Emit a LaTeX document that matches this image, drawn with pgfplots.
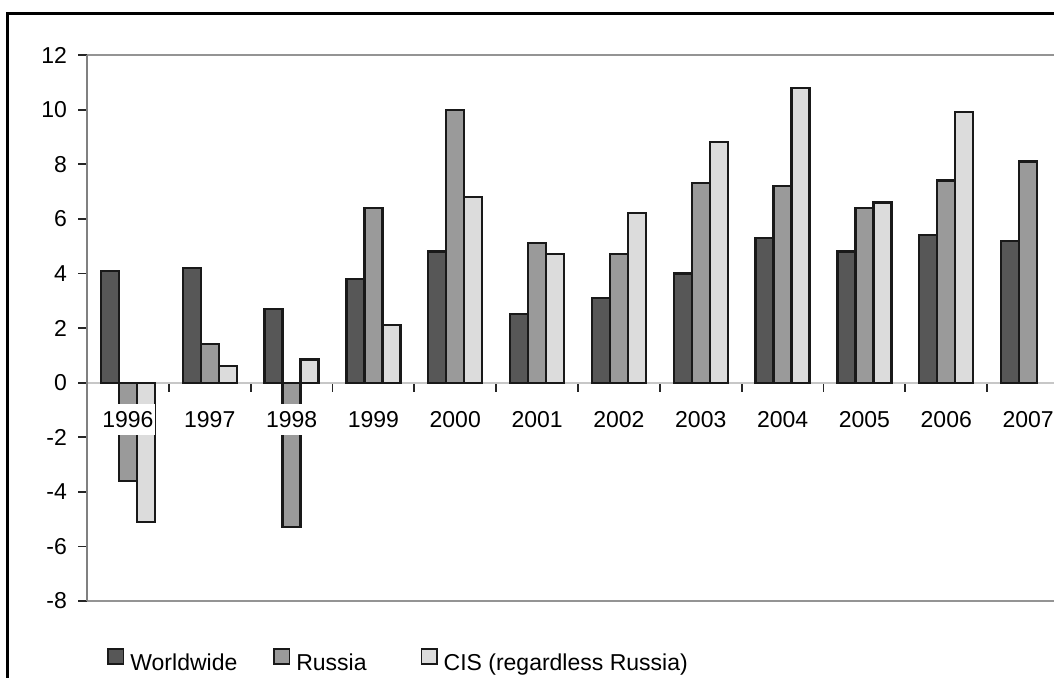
\documentclass[border=0pt]{standalone}
\usepackage{fontspec}
\setmainfont{Liberation Sans}
\usepackage{pgfplots}
\pgfplotsset{compat=1.18}
\definecolor{wwfill}{HTML}{575757}
\definecolor{rufill}{HTML}{9A9A9A}
\definecolor{cisfill}{HTML}{DCDCDC}
\newcommand{\chartfont}{\fontsize{11.5}{13.8}\selectfont}
\pgfplotsset{
  sqleg/.style={legend image code/.code={%
    \draw[##1,draw=black!90,line width=0.9pt] (0pt,-0.2pt) rectangle (7.6pt,7.4pt);}},
  growth bar/.style={ybar, bar width=0.22, draw=black!90, line width=1.1pt, sqleg},
}
\begin{document}
\begin{tikzpicture}
\begin{axis}[
  set layers,
  at={(43.5pt,38pt)}, anchor=south west,
  scale only axis, width=491pt, height=273pt,
  xmin=-0.5, xmax=11.5, ymin=-8, ymax=12,
  axis x line=middle, axis y line=left,
  hide obscured x ticks=false,
  axis line style={-},
  x axis line style={draw=black!22, line width=0.9pt},
  y axis line style={draw=black!50, line width=0.9pt},
  tick align=outside,
  major tick length=4.5pt,
  tick style={draw=black!85, line width=0.9pt},
  xtick={-0.5,0.5,...,11.5},
  x tick label as interval,
  xticklabels={1996,1997,1998,1999,2000,2001,2002,2003,2004,2005,2006,2007},
  xticklabel style={/pgfplots/on layer=axis foreground, fill=white,
    inner xsep=0.8pt, inner ysep=3.7pt, anchor=center, yshift=-14pt},
  ytick={-8,-6,-4,...,12},
  yticklabels={-8,-6,-4,-2,0,2,4,6,8,10,12},
  yticklabel style={xshift=-2pt},
  every tick label/.append style={font=\chartfont},
  extra y ticks={-8,12},
  extra y tick labels={},
  extra y tick style={grid=major, major tick length=0pt,
    major grid style={draw=black!42, line width=0.9pt}},
  legend columns=3,
  legend style={at={(0.02037,-0.1099)}, anchor=west, draw=none, fill=none,
    inner sep=0pt, font=\chartfont, nodes={inner sep=0pt},
    /tikz/every odd column/.append style={column sep=3pt},
    /tikz/column 2/.append style={column sep=18pt},
    /tikz/column 4/.append style={column sep=27pt}},
]
\addplot[growth bar, bar shift=-0.22, fill=wwfill] coordinates {
  (0,4.1) (1,4.2) (2,2.7) (3,3.8) (4,4.8) (5,2.5)
  (6,3.1) (7,4.0) (8,5.3) (9,4.8) (10,5.4) (11,5.2)};
\addplot[growth bar, bar shift=0, fill=rufill] coordinates {
  (0,-3.6) (1,1.4) (2,-5.3) (3,6.4) (4,10.0) (5,5.1)
  (6,4.7) (7,7.3) (8,7.2) (9,6.4) (10,7.4) (11,8.1)};
\addplot[growth bar, bar shift=0.22, fill=cisfill] coordinates {
  (0,-5.1) (1,0.6) (2,0.85) (3,2.1) (4,6.8) (5,4.7)
  (6,6.2) (7,8.8) (8,10.8) (9,6.6) (10,9.9)};
\legend{Worldwide,Russia,CIS (regardless Russia)}
\end{axis}
\draw[line width=1.25pt] (3.65pt,-2pt) -- (3.65pt,331.85pt) -- (530pt,331.85pt);
\pgfresetboundingbox
\path[use as bounding box] (0,0) rectangle (527pt,338.5pt);
\end{tikzpicture}
\end{document}
